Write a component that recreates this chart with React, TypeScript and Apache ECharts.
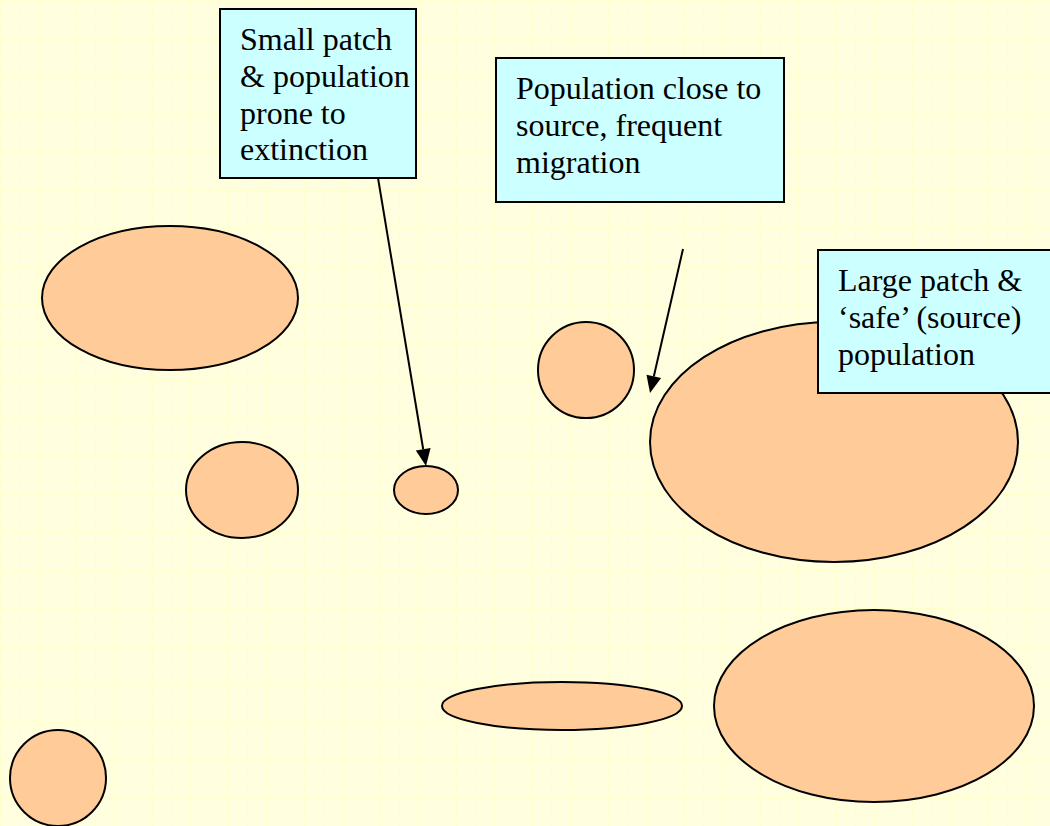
import React, { useEffect, useRef } from "react";
import * as echarts from "echarts";

// Patches (ellipses): centre and radii in diagram units (1 unit = 1 px)
const patchCx = [170, 242, 426, 586, 834, 562, 874, 58];
const patchCy = [298, 490, 490, 370, 442, 706, 706, 778];
const patchRx = [128, 56, 32, 48, 184, 120, 160, 48];
const patchRy = [72, 48, 24, 48, 120, 24, 96, 48];

// Callout boxes
const labelTexts = [
  "Small patch\n& population\nprone to\nextinction",
  "Population close to\nsource, frequent\nmigration",
  "Large patch &\n\u2018safe\u2019 (source)\npopulation",
];
const labelX0 = [220, 496, 818];
const labelY0 = [9, 58, 250];
const labelX1 = [416, 784, 1062];
const labelY1 = [178, 202, 393];

// Arrows
const arrowFromX = [378, 683];
const arrowFromY = [178, 249];
const arrowToX = [426, 650];
const arrowToY = [466, 393];

export default function App() {
  const ref = useRef<HTMLDivElement>(null);
  useEffect(() => {
    if (!ref.current) return;
    const chart = echarts.init(ref.current, undefined, { renderer: "svg" });

    const patchData = patchCx.map((cx, i) => [cx, patchCy[i], patchRx[i], patchRy[i]]);
    const boxData = labelX0.map((x, i) => [x, labelY0[i], labelX1[i], labelY1[i], i]);
    const arrowData = arrowFromX.map((x, i) => [x, arrowFromY[i], arrowToX[i], arrowToY[i]]);

    chart.setOption({
      animation: false,
      backgroundColor: "#FFFFE0",
      grid: { left: 0, right: 0, top: 0, bottom: 0 },
      xAxis: {
        type: "value",
        min: 0,
        max: 1050,
        interval: 19,
        axisLine: { show: false },
        axisTick: { show: false },
        axisLabel: { show: false },
        splitLine: { show: true, lineStyle: { color: "#FFFFCE", width: 1 } },
      },
      yAxis: {
        type: "value",
        min: 0,
        max: 826,
        interval: 19,
        inverse: true,
        axisLine: { show: false },
        axisTick: { show: false },
        axisLabel: { show: false },
        splitLine: { show: true, lineStyle: { color: "#FFFFCE", width: 1 } },
      },
      series: [
        {
          type: "custom",
          name: "patches",
          data: patchData,
          clip: false,
          renderItem: (params: any, api: any) => {
            const c = api.coord([api.value(0), api.value(1)]);
            const s = api.size([api.value(2), api.value(3)]);
            return {
              type: "ellipse",
              shape: { cx: c[0], cy: c[1], rx: s[0], ry: s[1] },
              style: { fill: "#FFCC99", stroke: "#000000", lineWidth: 2 },
            };
          },
          z: 2,
        },
        {
          type: "custom",
          name: "arrows",
          data: arrowData,
          clip: false,
          renderItem: (params: any, api: any) => {
            const p0 = api.coord([api.value(0), api.value(1)]);
            const p1 = api.coord([api.value(2), api.value(3)]);
            const dx = p1[0] - p0[0];
            const dy = p1[1] - p0[1];
            const len = Math.sqrt(dx * dx + dy * dy);
            const ux = dx / len;
            const uy = dy / len;
            const hl = 17;
            const hw = 7.5;
            const bx = p1[0] - ux * hl;
            const by = p1[1] - uy * hl;
            return {
              type: "group",
              children: [
                {
                  type: "line",
                  shape: { x1: p0[0], y1: p0[1], x2: bx, y2: by },
                  style: { stroke: "#000000", lineWidth: 2 },
                },
                {
                  type: "polygon",
                  shape: {
                    points: [
                      [p1[0], p1[1]],
                      [bx - uy * hw, by + ux * hw],
                      [bx + uy * hw, by - ux * hw],
                    ],
                  },
                  style: { fill: "#000000" },
                },
              ],
            };
          },
          z: 3,
        },
        {
          type: "custom",
          name: "labels",
          data: boxData,
          clip: false,
          renderItem: (params: any, api: any) => {
            const a = api.coord([api.value(0), api.value(1)]);
            const b = api.coord([api.value(2), api.value(3)]);
            const idx = api.value(4);
            return {
              type: "group",
              children: [
                {
                  type: "rect",
                  shape: { x: a[0], y: a[1], width: b[0] - a[0], height: b[1] - a[1] },
                  style: { fill: "#CCFFFF", stroke: "#000000", lineWidth: 2 },
                },
                {
                  type: "text",
                  style: {
                    text: labelTexts[idx],
                    x: a[0] + 20,
                    y: a[1] + 12,
                    fill: "#000000",
                    fontSize: 32,
                    fontFamily: "Liberation Serif",
                    lineHeight: 36.6,
                    verticalAlign: "top",
                    align: "left",
                  },
                },
              ],
            };
          },
          z: 4,
        },
      ],
    });

    return () => chart.dispose();
  }, []);

  return (
    <div
      ref={ref}
      style={{ position: "absolute", left: 0, top: 0, width: 1050, height: 826 }}
    />
  );
}
